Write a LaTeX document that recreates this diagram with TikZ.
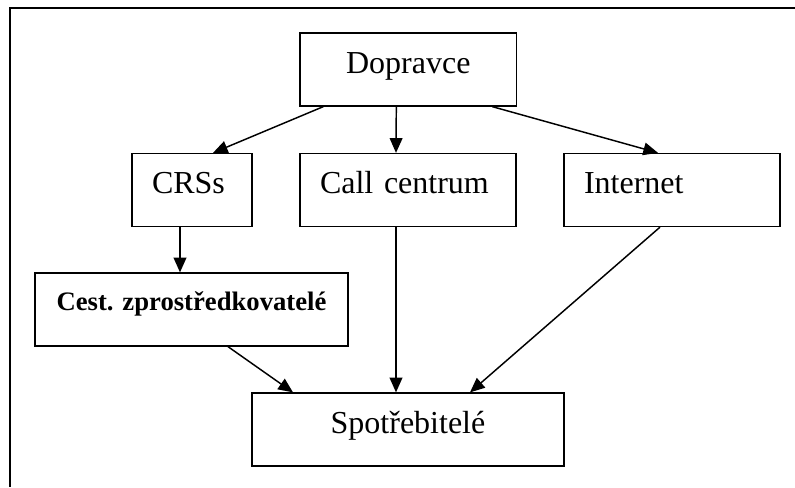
\documentclass[tikz,border=0pt]{standalone}
\usepackage{fontspec}
\setmainfont{Liberation Serif}
\usetikzlibrary{arrows.meta, calc}

\begin{document}
\begin{tikzpicture}[x=0.75pt, y=-0.75pt,
  box/.style={draw, line width=1.2pt, minimum height=54.5pt, inner xsep=15pt,
    font=\fontsize{24}{28}\selectfont, text height=17pt, text depth=11.75pt},
  leftbox/.style={box, align=left, text width=#1},
  arr/.style={line width=1.1pt, -{Triangle[length=11pt, width=9.5pt]}}]
  \useasboundingbox (0,0) rectangle (795,487);
  \draw[line width=1.2pt] (795,8) -- (10,8) -- (10,487);

  \node[box, minimum width=162.5pt] (dop) at (408.3,69.5) {Dopravce};
  \node[leftbox=60pt] (crs) at (192,190) {CRSs};
  \node[leftbox=132pt] (call) at (408,190) {Call centrum};
  \node[leftbox=132pt] (inet) at (672,190) {Internet};
  \node[box, minimum width=234.75pt, font=\fontsize{20}{24}\selectfont\bfseries,
    text height=14pt, text depth=13.25pt] (cest) at (191.5,309.5) {Cest. zprostředkovatelé};
  \node[box, minimum width=234pt] (spot) at (408,429.5) {Spotřebitelé};

  \draw[arr] ($(dop.south)+(-85,0)$) -- ($(crs.north)+(21,0)$);
  \draw[arr] ($(dop.south)+(-12,0)$) -- ($(call.north)+(-12,0)$);
  \draw[arr] ($(dop.south)+(84,0)$) -- ($(inet.north)+(-14,0)$);
  \draw[arr] ($(crs.south)+(-12,0)$) -- ($(cest.north)+(-11.5,0)$);
  \draw[arr] ($(cest.south)+(36.5,0)$) -- ($(spot.north)+(-115,0)$);
  \draw[arr] ($(call.south)+(-12,0)$) -- ($(spot.north)+(-12,0)$);
  \draw[arr] ($(inet.south)+(-12,0)$) -- ($(spot.north)+(62,0)$);
\end{tikzpicture}
\end{document}
